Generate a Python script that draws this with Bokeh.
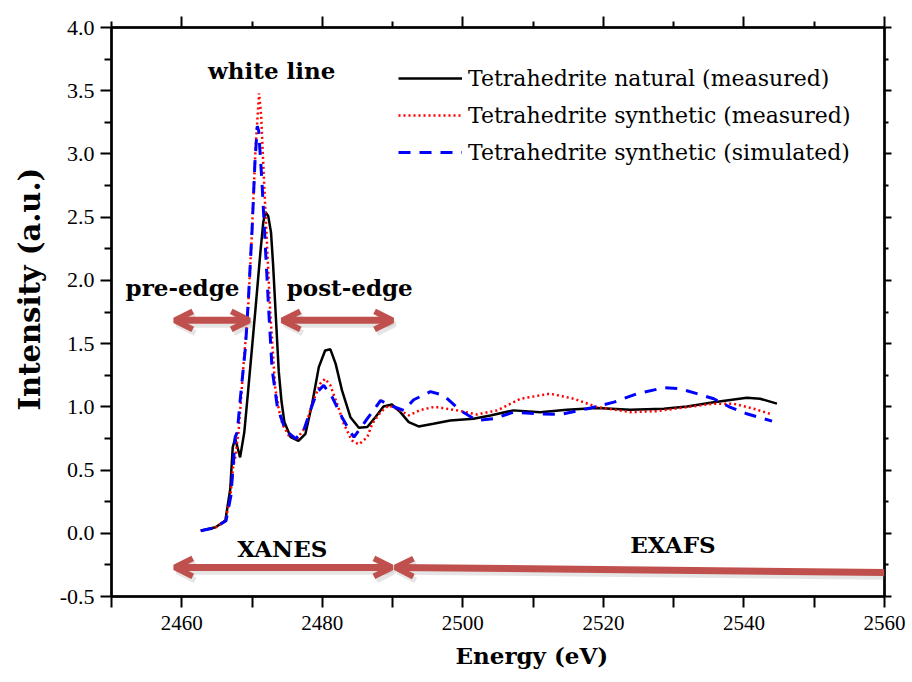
from bokeh.plotting import figure
from bokeh.models import (Range1d, LinearAxis, Arrow, OpenHead, Label, Legend, Title,
                          LegendItem, FixedTicker, PrintfTickFormatter, CustomJSTickFormatter)
from bokeh.embed import file_html
from bokeh.resources import INLINE

# ---------------- data ----------------
energy_nat = [2462.7, 2464.8, 2466.2, 2466.9, 2467.25, 2467.6, 2468.3, 2468.9, 2469.4, 2470.0,
              2470.5, 2471.2, 2471.6, 2471.9, 2472.3, 2472.7, 2473.0, 2473.4, 2473.8, 2474.2,
              2474.6, 2475.5, 2476.6, 2477.6, 2478.55, 2479.5, 2480.4, 2481.15, 2481.9, 2482.8,
              2484.0, 2485.2, 2486.4, 2487.55, 2488.7, 2489.9, 2491.1, 2492.3, 2493.7, 2495.8,
              2498.2, 2501.5, 2503.9, 2507.2, 2511.0, 2514.8, 2519.1, 2523.8, 2528.6, 2531.9,
              2535.7, 2540.4, 2542.3, 2544.7]
int_nat = [0.02, 0.048, 0.10, 0.35, 0.68, 0.75, 0.60, 0.80, 1.10, 1.47,
           1.78, 2.23, 2.46, 2.54, 2.51, 2.38, 2.12, 1.70, 1.28, 1.04,
           0.88, 0.76, 0.73, 0.787, 1.025, 1.314, 1.446, 1.455, 1.34, 1.13,
           0.918, 0.835, 0.84, 0.918, 1.003, 1.019, 0.958, 0.879, 0.845, 0.866,
           0.892, 0.906, 0.932, 0.972, 0.958, 0.977, 0.99, 0.977, 0.985, 1.003,
           1.037, 1.072, 1.064, 1.025]

energy_syn = [2462.7, 2464.8, 2466.2, 2466.9, 2467.3, 2467.6, 2468.1, 2468.8, 2469.4, 2470.0,
              2470.5, 2471.0, 2471.3, 2471.7, 2472.15, 2472.6, 2473.3, 2473.8, 2474.3, 2475.2,
              2476.4, 2477.6, 2478.55, 2479.7, 2480.4, 2481.15, 2482.1, 2483.05, 2484.2, 2485.2,
              2486.4, 2487.1, 2488.3, 2489.45, 2490.9, 2492.3, 2493.95, 2496.0, 2499.2, 2502.0,
              2504.9, 2508.2, 2512.4, 2515.8, 2519.1, 2523.8, 2527.6, 2531.9, 2535.7, 2538.5,
              2541.4, 2544.0]
int_syn = [0.02, 0.045, 0.10, 0.28, 0.52, 0.60, 0.813, 1.34, 1.737, 2.396,
           3.05, 3.48, 3.30, 2.79, 2.26, 1.737, 1.15, 0.98, 0.866, 0.774,
           0.748, 0.84, 1.025, 1.183, 1.222, 1.17, 1.025, 0.866, 0.734, 0.703,
           0.76, 0.866, 0.958, 1.011, 0.977, 0.932, 0.975, 1.0, 0.972, 0.94,
           0.972, 1.064, 1.104, 1.064, 0.998, 0.958, 0.966, 0.998, 1.025, 1.025,
           0.985, 0.94]

energy_sim = [2462.7, 2464.8, 2466.3, 2467.0, 2467.4, 2467.6, 2467.9, 2468.35, 2469.06, 2469.5,
              2470.0, 2470.4, 2470.75, 2470.95, 2471.4, 2471.9, 2472.4, 2472.85, 2473.6, 2474.75,
              2476.2, 2477.35, 2478.3, 2479.25, 2480.2, 2481.4, 2482.8, 2484.0, 2484.5, 2486.4,
              2488.3, 2489.7, 2491.6, 2493.0, 2495.4, 2497.3, 2499.6, 2502.0, 2504.4, 2507.2,
              2510.5, 2513.9, 2517.7, 2521.5, 2524.8, 2528.6, 2530.9, 2533.3, 2535.7, 2538.0,
              2540.4, 2544.0]
int_sim = [0.02, 0.045, 0.10, 0.30, 0.60, 0.76, 0.80, 1.077, 1.47, 1.868,
           2.396, 2.92, 3.22, 3.18, 2.79, 2.26, 1.737, 1.30, 1.00, 0.813,
           0.748, 0.813, 0.972, 1.116, 1.17, 1.077, 0.918, 0.80, 0.76, 0.906,
           1.05, 1.01, 0.972, 1.056, 1.12, 1.09, 0.972, 0.892, 0.906, 0.958,
           0.945, 0.94, 0.985, 1.037, 1.104, 1.151, 1.143, 1.104, 1.064, 0.998,
           0.945, 0.887]

series_names = ["Tetrahedrite natural (measured)",
                "Tetrahedrite synthetic (measured)",
                "Tetrahedrite synthetic (simulated)"]

x_major_ticks = [2460, 2480, 2500, 2520, 2540, 2560]
x_minor_ticks = [2450, 2470, 2490, 2510, 2530, 2550]
y_major_ticks = [-0.5, 0.0, 0.5, 1.0, 1.5, 2.0, 2.5, 3.0, 3.5, 4.0]
y_minor_ticks = [-0.25, 0.25, 0.75, 1.25, 1.75, 2.25, 2.75, 3.25, 3.75]

x_title = "Energy (eV)"
y_title = "Intensity (a.u.)"

# annotations: (text, x, y)
annot_texts = [("white line", 2472.8, 3.66), ("pre-edge", 2460.1, 1.94),
               ("post-edge", 2483.9, 1.94), ("XANES", 2474.3, -0.12),
               ("EXAFS", 2529.9, -0.09)]
# arrows: (x0, y0, x1, y1, head at start, head at end)
arrows = [(2459.0, 1.684, 2469.6, 1.684, True, True),
          (2474.3, 1.684, 2490.0, 1.684, True, True),
          (2459.0, -0.27, 2489.9, -0.27, True, True),
          (2490.4, -0.27, 2560.0, -0.31, True, False)]

# ---------------- figure ----------------
SERIF = "Liberation Serif"
BOLD_SERIF = "DejaVu Serif"

p = figure(width=912, height=682, output_backend="svg", toolbar_location=None,
           x_range=Range1d(2450, 2560), y_range=Range1d(-0.5, 4.0),
           min_border_left=111, min_border_right=28, min_border_top=27,
           min_border_bottom=86, background_fill_color="white",
           border_fill_color="white")
p.xgrid.visible = False
p.ygrid.visible = False
p.outline_line_color = "black"
p.outline_line_width = 2

bottom_ax = p.below[0]
left_ax = p.left[0]

xt = FixedTicker(ticks=x_major_ticks, minor_ticks=x_minor_ticks)
yt = FixedTicker(ticks=y_major_ticks, minor_ticks=y_minor_ticks)

bottom_ax.ticker = xt
left_ax.ticker = yt
left_ax.formatter = PrintfTickFormatter(format="%.1f")

blank = CustomJSTickFormatter(code="return ''")
top_ax = LinearAxis(ticker=xt, formatter=blank)
right_ax = LinearAxis(ticker=yt, formatter=blank)
p.add_layout(top_ax, "above")
p.add_layout(right_ax, "right")

for ax in [bottom_ax, left_ax, top_ax, right_ax]:
    ax.axis_line_width = 2.5
    ax.axis_line_color = "black"
    ax.major_tick_line_width = 2
    ax.minor_tick_line_width = 2
    ax.major_tick_in = 0
    ax.minor_tick_in = 0
    ax.major_tick_out = 11
    ax.minor_tick_out = 7
    ax.major_label_text_font = SERIF
    ax.major_label_text_color = "black"
    ax.major_label_text_font_size = "21px"
left_ax.major_label_text_font_size = "22px"
bottom_ax.major_label_standoff = 8
left_ax.major_label_standoff = 6
bottom_ax.minor_tick_out = 11
top_ax.minor_tick_out = 6
right_ax.major_tick_out = 7
right_ax.minor_tick_out = 4
top_ax.major_label_standoff = 0
right_ax.major_label_standoff = 0

# axis titles
p.add_layout(Title(text=x_title, text_font=BOLD_SERIF, text_font_size="23px",
                   text_font_style="bold", text_color="black", align="left",
                   offset=344, standoff=14), "below")
p.add_layout(Title(text=y_title, text_font=BOLD_SERIF, text_font_size="29px",
                   text_font_style="bold", text_color="black", align="left",
                   offset=186, standoff=20), "left")

r_nat = p.line(energy_nat, int_nat, line_color="black", line_width=2.5)
r_syn = p.line(energy_syn, int_syn, line_color="red", line_width=2.5, line_dash="2 3")
r_sim = p.line(energy_sim, int_sim, line_color="blue", line_width=3, line_dash="12 9")

legend = Legend(items=[LegendItem(label=series_names[0], renderers=[r_nat]),
                       LegendItem(label=series_names[1], renderers=[r_syn]),
                       LegendItem(label=series_names[2], renderers=[r_sim])],
                location=(287, 429), glyph_width=64, glyph_height=30, label_height=30,
                spacing=7, padding=0, margin=0, label_standoff=6,
                label_text_font=BOLD_SERIF, label_text_font_size="22px",
                label_text_color="black", background_fill_alpha=0,
                border_line_color=None)
p.add_layout(legend)

ARROW_COLOR = "#c0504d"
for (x0, y0, x1, y1, hs, he) in arrows:
    for col, alpha, dx, dy in [("#888888", 0.22, 0.35, -0.03), (ARROW_COLOR, 1.0, 0, 0)]:
        start = OpenHead(size=18, line_width=6, line_color=col, line_alpha=alpha) if hs else None
        end = OpenHead(size=18, line_width=6, line_color=col, line_alpha=alpha) if he else None
        p.add_layout(Arrow(x_start=x0 + dx, y_start=y0 + dy, x_end=x1 + dx, y_end=y1 + dy,
                           start=start, end=end, line_color=col, line_alpha=alpha,
                           line_width=7))

for (txt, x, y) in annot_texts:
    p.add_layout(Label(x=x, y=y, text=txt, text_font=BOLD_SERIF, text_font_size="23px",
                       text_font_style="bold", text_align="center", text_baseline="middle",
                       text_color="black"))

open("out.html", "w").write(file_html(p, INLINE))
